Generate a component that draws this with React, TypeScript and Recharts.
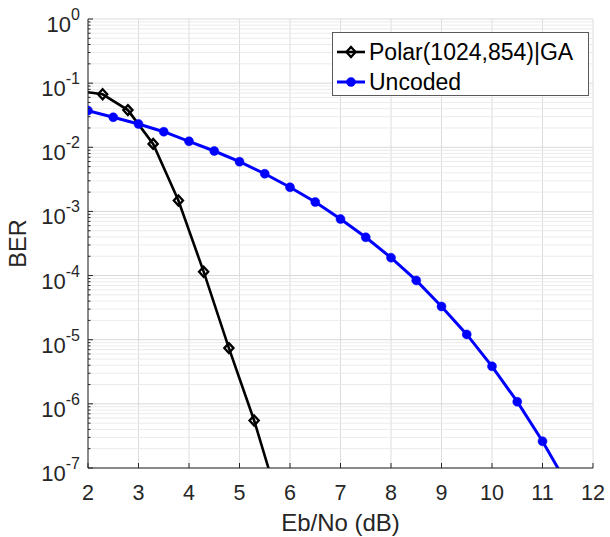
import { LineChart, Line, XAxis, YAxis, CartesianGrid, ReferenceLine, Legend } from "recharts"

// Polar(1024,854)|GA, Eb/No shifted by the code rate
const polarEbNo = [1.79, 2.29, 2.79, 3.29, 3.79, 4.29, 4.79, 5.29, 5.79]
const polarBer = [7.6e-2, 6.7e-2, 3.8e-2, 1.13e-2, 1.48e-3, 1.15e-4, 7.4e-6, 5.5e-7, 2.7e-8]

const uncodedEbNo = [2, 2.5, 3, 3.5, 4, 4.5, 5, 5.5, 6, 6.5, 7, 7.5, 8, 8.5, 9, 9.5, 10, 10.5, 11, 11.5]
const uncodedBer = [
  3.73e-2, 2.94e-2, 2.31e-2, 1.75e-2, 1.24e-2, 8.75e-3, 5.96e-3, 3.87e-3, 2.38e-3, 1.4e-3,
  7.6e-4, 3.95e-4, 1.9e-4, 8.4e-5, 3.3e-5, 1.21e-5, 3.85e-6, 1.08e-6, 2.61e-7, 5.4e-8,
]

const xTicks = [2, 3, 4, 5, 6, 7, 8, 9, 10, 11, 12]
const decadeExponents = [-7, -6, -5, -4, -3, -2, -1, 0]
const minorMantissas = [2, 3, 4, 5, 6, 7, 8, 9]

const seriesNames = ["Polar(1024,854)|GA", "Uncoded"]
const seriesColors = ["#000000", "#0000ff"]

const majorTicks = decadeExponents.map((e) => Math.pow(10, e))
const minorTicks = decadeExponents
  .slice(0, -1)
  .flatMap((e) => minorMantissas.map((m) => m * Math.pow(10, e)))
const yTicks = [...majorTicks, ...minorTicks].sort((a, b) => a - b)

const polarData = polarEbNo.map((x, i) => ({ x, y: polarBer[i] }))
const uncodedData = uncodedEbNo.map((x, i) => ({ x, y: uncodedBer[i] }))

const FONT = '"Liberation Sans", Arial, Helvetica, sans-serif'
const AXIS = "#262626"

const isMajor = (v: number) => {
  const l = Math.log10(v)
  return Math.abs(l - Math.round(l)) < 1e-9
}

function diamond(cx: number, cy: number, key?: any) {
  return (
    <path
      key={key}
      d={`M${cx},${cy - 5} L${cx + 4.6},${cy} L${cx},${cy + 5} L${cx - 4.6},${cy} Z`}
      fill="none"
      stroke="#000"
      strokeWidth={2.3}
    />
  )
}

function circle(cx: number, cy: number, key?: any) {
  return <circle key={key} cx={cx} cy={cy} r={4.5} fill="#0000ff" stroke="#0000ff" strokeWidth={0.5} />
}

function BottomTick({ x, y, payload }: any) {
  return (
    <g>
      <line x1={x} y1={y} x2={x} y2={y - 5} stroke={AXIS} />
      <text x={x} y={y + 32} textAnchor="middle" fontSize={21.5} fill={AXIS} fontFamily={FONT}>
        {payload.value}
      </text>
    </g>
  )
}

function TopTick({ x, y }: any) {
  return <line x1={x} y1={y} x2={x} y2={y + 5} stroke={AXIS} />
}

function LeftTick({ x, y, payload }: any) {
  const v = payload.value
  if (!isMajor(v)) return <line x1={x} y1={y} x2={x + 2.5} y2={y} stroke={AXIS} />
  const exp = Math.round(Math.log10(v))
  return (
    <g>
      <line x1={x} y1={y} x2={x + 5} y2={y} stroke={AXIS} />
      <text x={x - 8} y={y + 13} textAnchor="end" fill={AXIS} fontFamily={FONT}>
        <tspan fontSize={22}>10</tspan>
        <tspan fontSize={16} dy={-12}>
          {exp}
        </tspan>
      </text>
    </g>
  )
}

function RightTick({ x, y, payload }: any) {
  const len = isMajor(payload.value) ? 5 : 2.5
  return <line x1={x} y1={y} x2={x - len} y2={y} stroke={AXIS} />
}

function YTitle({ viewBox }: any) {
  const cx = viewBox.x + 18
  const cy = viewBox.y + viewBox.height / 2
  return (
    <text
      x={cx}
      y={cy}
      transform={`rotate(-90 ${cx} ${cy})`}
      textAnchor="middle"
      dominantBaseline="central"
      fontSize={23.5}
      fill={AXIS}
      fontFamily={FONT}
    >
      BER
    </text>
  )
}

function XTitle({ viewBox }: any) {
  return (
    <text
      x={viewBox.x + viewBox.width / 2}
      y={viewBox.y + 63}
      textAnchor="middle"
      fontSize={24}
      fill={AXIS}
      fontFamily={FONT}
    >
      Eb/No (dB)
    </text>
  )
}

function LegendBox() {
  return (
    <div
      style={{
        position: "relative",
        width: 257,
        height: 64,
        boxSizing: "border-box",
        border: "1px solid #5a5a5a",
        background: "#fff",
        fontFamily: FONT,
        fontSize: 23,
        color: "#000",
      }}
    >
      {seriesNames.map((name, i) => (
        <div
          key={name}
          style={{
            position: "absolute",
            left: 0,
            top: 4 + i * 30,
            height: 30,
            display: "flex",
            alignItems: "center",
            whiteSpace: "nowrap",
          }}
        >
          <svg width={36} height={30} style={{ display: "block" }}>
            <line x1={4} y1={15} x2={32} y2={15} stroke={seriesColors[i]} strokeWidth={i === 0 ? 2.6 : 3} />
            {i === 0 ? diamond(18, 15) : circle(18, 15)}
          </svg>
          <span style={{ lineHeight: "30px" }}>{name}</span>
        </div>
      ))}
    </div>
  )
}

export default function App() {
  return (
    <div style={{ position: "absolute", left: 0, top: 0, background: "#fff" }}>
      <LineChart width={610} height={537} margin={{ top: 19, right: 17, bottom: 0, left: 0 }}>
        <CartesianGrid horizontal={false} stroke="#dcdcdc" />
        {minorTicks.map((v) => (
          <ReferenceLine key={"m" + v} y={v} stroke="#ebebeb" strokeWidth={1} />
        ))}
        {majorTicks.map((v) => (
          <ReferenceLine key={"M" + v} y={v} stroke="#d9d9d9" strokeWidth={1} />
        ))}
        <XAxis
          dataKey="x"
          type="number"
          domain={[2, 12]}
          ticks={xTicks}
          interval={0}
          allowDataOverflow
          height={69}
          tickSize={0}
          tickMargin={0}
          tickLine={false}
          axisLine={{ stroke: AXIS }}
          tick={<BottomTick />}
          label={<XTitle />}
        />
        <XAxis
          xAxisId="top"
          orientation="top"
          dataKey="x"
          type="number"
          domain={[2, 12]}
          ticks={xTicks}
          interval={0}
          allowDataOverflow
          height={0}
          tickSize={0}
          tickMargin={0}
          tickLine={false}
          axisLine={{ stroke: AXIS }}
          tick={<TopTick />}
        />
        <YAxis
          type="number"
          scale="log"
          domain={[1e-7, 1]}
          ticks={yTicks}
          interval={0}
          allowDataOverflow
          width={88}
          tickSize={0}
          tickMargin={0}
          tickLine={false}
          axisLine={{ stroke: AXIS }}
          tick={<LeftTick />}
          label={<YTitle />}
        />
        <YAxis
          yAxisId="right"
          orientation="right"
          type="number"
          scale="log"
          domain={[1e-7, 1]}
          ticks={yTicks}
          interval={0}
          allowDataOverflow
          width={0}
          tickSize={0}
          tickMargin={0}
          tickLine={false}
          axisLine={{ stroke: AXIS }}
          tick={<RightTick />}
        />
        <Legend
          layout="horizontal"
          verticalAlign="middle"
          align="center"
          wrapperStyle={{ position: "absolute", left: 332, top: 32, width: 257, height: 64 }}
          content={() => <LegendBox />}
        />
        <Line
          data={uncodedData}
          dataKey="y"
          name={seriesNames[1]}
          type="linear"
          stroke={seriesColors[1]}
          strokeWidth={3}
          dot={(p: any) => circle(p.cx, p.cy, p.key ?? p.index)}
          activeDot={false}
          isAnimationActive={false}
        />
        <Line
          data={polarData}
          dataKey="y"
          name={seriesNames[0]}
          type="linear"
          stroke={seriesColors[0]}
          strokeWidth={2.6}
          dot={(p: any) => diamond(p.cx, p.cy, p.key ?? p.index)}
          activeDot={false}
          isAnimationActive={false}
        />
      </LineChart>
    </div>
  )
}
